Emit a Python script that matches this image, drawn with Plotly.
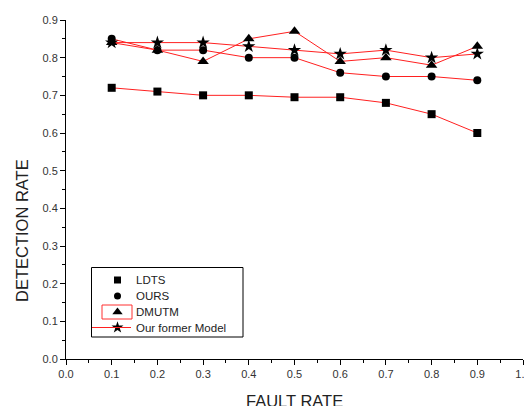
import plotly.graph_objects as go

fault_rate = [0.1, 0.2, 0.3, 0.4, 0.5, 0.6, 0.7, 0.8, 0.9]
ldts = [0.72, 0.71, 0.70, 0.70, 0.695, 0.695, 0.68, 0.65, 0.60]
ours = [0.85, 0.82, 0.82, 0.80, 0.80, 0.76, 0.75, 0.75, 0.74]
dmutm = [0.84, 0.82, 0.79, 0.85, 0.87, 0.79, 0.80, 0.78, 0.83]
former = [0.84, 0.84, 0.84, 0.83, 0.82, 0.81, 0.82, 0.80, 0.81]

names = ["LDTS", "OURS", "DMUTM", "Our former Model"]
symbols = ["square", "circle", "triangle-up", "star"]
values = [ldts, ours, dmutm, former]
sizes = [8, 8, 10, 10]

OFF = 8  # page body margin
W, H = 524, 398
L, R, T, B = 58, 9, 12, 47
pw, ph = W - L - R, H - T - B

def px(x):
    return (x - OFF - L) / pw

def py(y):
    return (H - B - (y - OFF)) / ph

fig = go.Figure()
for name, vals, sym, sz in zip(names, values, symbols, sizes):
    fig.add_trace(go.Scatter(
        x=fault_rate, y=vals, mode="lines+markers", name=name, showlegend=False,
        line=dict(color="#ff2020", width=1),
        marker=dict(symbol=sym, size=sz, color="black"),
    ))

# manual legend (overlay axis in paper-like coordinates)
row_y = [280, 296, 312, 327.5]
marker_x = 117.5
text_x = 134
leg_sizes = [7, 7, 9, 9]
for i, (name, sym) in enumerate(zip(names, symbols)):
    fig.add_trace(go.Scatter(
        x=[px(marker_x)], y=[py(row_y[i])], mode="markers", xaxis="x2", yaxis="y2",
        showlegend=False, cliponaxis=False, hoverinfo="skip",
        marker=dict(symbol=sym, size=leg_sizes[i], color="black"),
    ))
    fig.add_annotation(
        x=px(text_x), y=py(row_y[i]), xref="paper", yref="paper", text=name,
        showarrow=False, xanchor="left", yanchor="middle",
        font=dict(size=11.5, color="#222"),
    )

# axis titles placed like the reference
fig.add_annotation(
    x=px(22), y=py(231), xref="paper", yref="paper", text="DETECTION RATE",
    showarrow=False, textangle=-90, xanchor="center", yanchor="middle",
    font=dict(size=16.5, color="#222"),
)
fig.add_annotation(
    x=px(294.5), y=py(400.5), xref="paper", yref="paper", text="FAULT RATE",
    showarrow=False, xanchor="center", yanchor="middle",
    font=dict(size=16.5, color="#222"),
)

shapes = [
    dict(type="rect", xref="paper", yref="paper", x0=px(91.5), x1=px(243),
         y0=py(337), y1=py(267.5), line=dict(color="black", width=1), fillcolor="white", layer="below"),
    dict(type="rect", xref="paper", yref="paper", x0=px(102), x1=px(132),
         y0=py(319), y1=py(305), line=dict(color="#ff3030", width=1)),
    dict(type="line", xref="paper", yref="paper", x0=px(92), x1=px(131),
         y0=py(row_y[3]), y1=py(row_y[3]), line=dict(color="#ff2020", width=1)),
]

fig.update_layout(
    width=W, height=H,
    margin=dict(l=L, r=R, t=T, b=B, autoexpand=False),
    paper_bgcolor="white", plot_bgcolor="white",
    font=dict(family="Liberation Sans, Arial, sans-serif", color="#222"),
    shapes=shapes,
    xaxis=dict(
        range=[0, 1], dtick=0.1, tick0=0, tickformat=".1f", automargin=False,
        showgrid=False, zeroline=False, showline=True, linecolor="black", linewidth=1,
        ticks="outside", ticklen=5, tickcolor="black",
        minor=dict(dtick=0.05, ticks="outside", ticklen=3, tickcolor="black"),
        tickfont=dict(size=11, color="#333"),
    ),
    yaxis=dict(
        range=[0, 0.9], dtick=0.1, tick0=0, tickformat=".1f", automargin=False,
        showgrid=False, zeroline=False, showline=True, linecolor="black", linewidth=1,
        ticks="outside", ticklen=5, tickcolor="black",
        minor=dict(dtick=0.05, ticks="outside", ticklen=3, tickcolor="black"),
        tickfont=dict(size=11, color="#333"),
    ),
    xaxis2=dict(range=[0, 1], overlaying="x", visible=False, fixedrange=True),
    yaxis2=dict(range=[0, 1], overlaying="y", visible=False, fixedrange=True),
)
fig.write_html("out.html")
